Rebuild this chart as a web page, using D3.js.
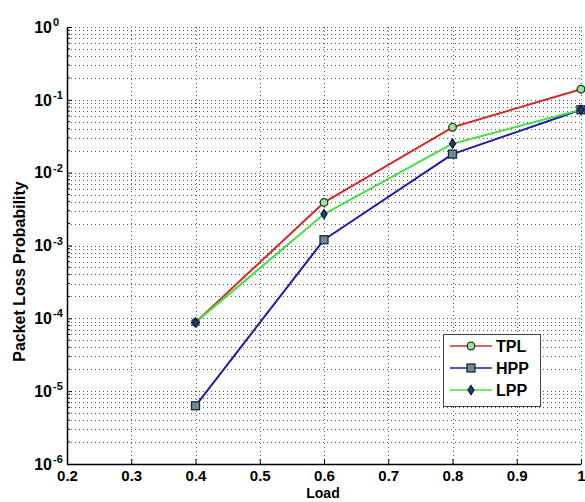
<!DOCTYPE html>
<html>
<head>
<meta charset="utf-8">
<script src="https://cdn.jsdelivr.net/npm/d3@7"></script>
<style>
  body { margin: 0; background: #fff; }
  text { font-family: "Liberation Sans", Arial, sans-serif; font-weight: bold; fill: #000; }
</style>
</head>
<body>
<div class="chart"></div>
<script>
// data
const loads = [0.4, 0.6, 0.8, 1.0];
const tpl = [8.8e-5, 3.9e-3, 4.2e-2, 0.14];
const hpp = [6.3e-6, 1.2e-3, 1.8e-2, 7.3e-2];
const lpp = [8.8e-5, 2.7e-3, 2.5e-2, 7.3e-2];
const xTicks = [0.2, 0.3, 0.4, 0.5, 0.6, 0.7, 0.8, 0.9, 1];
const yDecades = [-6, -5, -4, -3, -2, -1, 0];

const series = [
  {name: 'TPL', values: tpl, color: '#d42a2a', marker: 'circle', fill: '#9fe09f', edge: '#1b3a1b'},
  {name: 'HPP', values: hpp, color: '#1c1ca8', marker: 'square', fill: '#6b8b99', edge: '#1a2830'},
  {name: 'LPP', values: lpp, color: '#44e044', marker: 'diamond', fill: '#2c3c84', edge: '#10183c'}
];

const W = 585, H = 502;
const margin = {top: 27, right: 4, bottom: 38, left: 67},
  width = W - margin.left - margin.right,
  height = H - margin.top - margin.bottom;

const svg = d3.select('.chart')
  .append('svg')
  .attr('width', W)
  .attr('height', H)
  .append('g')
  .attr('transform', 'translate(' + margin.left + ',' + margin.top + ')');

const xScale = d3.scaleLinear().domain([0.2, 1]).range([0, width]);
const yScale = d3.scaleLog().domain([1e-6, 1]).range([height, 0]);

// grid values for log axis: decades and 2..9 minors
const minorVals = [];
yDecades.slice(0, -1).forEach(e => {
  for (let k = 2; k <= 9; k++) minorVals.push(k * Math.pow(10, e));
});
const majorVals = yDecades.map(e => Math.pow(10, e));

const grid = svg.append('g').attr('class', 'grid')
  .attr('stroke', '#555')
  .attr('stroke-width', 1)
  .attr('stroke-dasharray', '1,3')
  .attr('shape-rendering', 'crispEdges');

grid.selectAll('.hgrid')
  .data(majorVals.concat(minorVals))
  .enter().append('line')
  .attr('x1', 0).attr('x2', width)
  .attr('y1', d => Math.round(yScale(d)) + 0.5)
  .attr('y2', d => Math.round(yScale(d)) + 0.5);

grid.selectAll('.vgrid')
  .data(xTicks.slice(1))
  .enter().append('line')
  .attr('y1', 0).attr('y2', height)
  .attr('x1', d => Math.round(xScale(d)) + 0.5)
  .attr('x2', d => Math.round(xScale(d)) + 0.5);

// axes
const xAxis = svg.append('g')
  .attr('transform', `translate(0,${height})`)
  .call(d3.axisBottom(xScale).tickValues(xTicks).tickFormat(d3.format('')).tickSizeInner(-5).tickSizeOuter(0));
xAxis.select('.domain').attr('stroke-width', 1.5);
xAxis.selectAll('.tick text')
  .attr('font-size', 15)
  .attr('font-family', '"Liberation Sans", Arial, sans-serif')
  .attr('font-weight', 'bold')
  .attr('y', 6)
  .attr('dy', '0.71em');

const yAxis = svg.append('g')
  .call(d3.axisLeft(yScale).tickValues(majorVals).tickFormat('').tickSizeInner(-5).tickSizeOuter(0));
yAxis.select('.domain').attr('stroke-width', 1.5);

svg.append('g').selectAll('line')
  .data(minorVals)
  .enter().append('line')
  .attr('x1', 0).attr('x2', 3)
  .attr('y1', d => yScale(d)).attr('y2', d => yScale(d))
  .attr('stroke', '#000');

const ylab = svg.append('g').selectAll('g')
  .data(yDecades)
  .enter().append('g')
  .attr('transform', d => `translate(0,${yScale(Math.pow(10, d))})`);
ylab.append('text')
  .attr('x', -15)
  .attr('dy', '0.36em')
  .attr('text-anchor', 'end')
  .attr('font-size', 16)
  .text('10');
ylab.append('text')
  .attr('x', -14)
  .attr('dy', '-1px')
  .attr('text-anchor', 'start')
  .attr('font-size', 11)
  .text(d => d === 0 ? '0' : '-' + Math.abs(d));

// axis titles
svg.append('text')
  .attr('x', xScale(0.6) - 1)
  .attr('y', height + 34)
  .attr('text-anchor', 'middle')
  .attr('font-size', 14)
  .text('Load');

svg.append('text')
  .attr('transform', `translate(${-margin.left + 25},${height / 2 + 26}) rotate(-90)`)
  .attr('text-anchor', 'middle')
  .attr('font-size', 16)
  .text('Packet Loss Probability');

// lines
const line = d3.line()
  .x((d, i) => xScale(loads[i]))
  .y(d => yScale(d));

series.forEach(s => {
  svg.append('path')
    .datum(s.values)
    .attr('d', line)
    .attr('fill', 'none')
    .attr('stroke', s.color)
    .attr('stroke-width', 2)
    .attr('stroke-linejoin', 'round');
});

function drawMarker(g, type, fill, edge) {
  if (type === 'circle') {
    g.append('circle').attr('r', 3.8);
  } else if (type === 'square') {
    g.append('rect').attr('x', -4).attr('y', -4).attr('width', 8).attr('height', 8);
  } else {
    g.append('path').attr('d', 'M0,-4.5L3,0L0,4.5L-3,0Z');
  }
  g.selectAll('*').attr('fill', fill).attr('stroke', edge).attr('stroke-width', 1.3);
}

series.forEach(s => {
  s.values.forEach((v, i) => {
    const g = svg.append('g')
      .attr('transform', `translate(${xScale(loads[i])},${yScale(v)})`);
    drawMarker(g, s.marker, s.fill, s.edge);
  });
});

// legend
const lx = 443 - margin.left, ly = 334 - margin.top;
const legend = svg.append('g').attr('transform', `translate(${lx},${ly})`);
legend.append('rect')
  .attr('x', 0.5).attr('y', 0.5)
  .attr('width', 97).attr('height', 72)
  .attr('fill', '#fff')
  .attr('stroke', '#444')
  .attr('stroke-width', 1);

series.forEach((s, i) => {
  const row = legend.append('g').attr('transform', `translate(0,${12 + i * 22})`);
  row.append('line')
    .attr('x1', 7).attr('x2', 49)
    .attr('stroke', s.color)
    .attr('stroke-width', 1.5);
  const m = row.append('g').attr('transform', 'translate(28,0)');
  drawMarker(m, s.marker, s.fill, s.edge);
  row.append('text')
    .attr('x', 53)
    .attr('dy', '0.36em')
    .attr('font-size', 16)
    .text(s.name);
});
</script>
</body>
</html>
